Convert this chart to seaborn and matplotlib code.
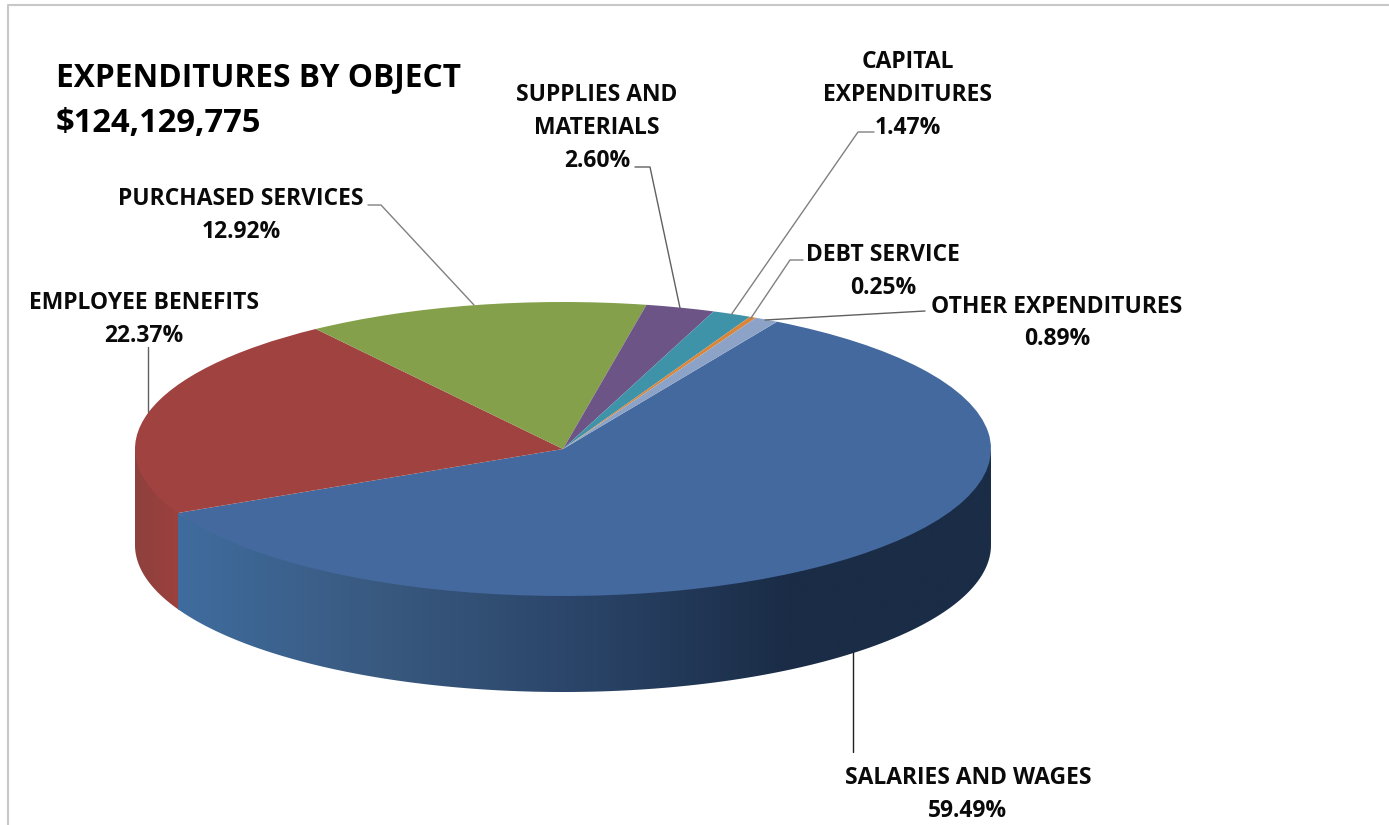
import numpy as np
import matplotlib
matplotlib.use("Agg")
import matplotlib.pyplot as plt
from matplotlib.patches import Polygon
import seaborn as sns

categories = ["SALARIES AND WAGES", "EMPLOYEE BENEFITS", "PURCHASED SERVICES",
              "SUPPLIES AND\nMATERIALS", "CAPITAL\nEXPENDITURES", "DEBT SERVICE",
              "OTHER EXPENDITURES"]
shares = [59.49, 22.37, 12.92, 2.60, 1.47, 0.25, 0.89]
title_lines = ["EXPENDITURES BY OBJECT", "$124,129,775"]
slice_colors = ["#44699E", "#A04240", "#84A04B", "#6D5486", "#3E93A9", "#D9863B", "#8CA3C7"]

W, H = 1389, 825
CX, CY, RX, RY, DEPTH = 563, 449, 428, 147, 96
START = 60

sns.set_theme(style="white")
plt.rcParams["font.family"] = ["Open Sans", "DejaVu Sans"]
plt.rcParams["font.weight"] = "bold"

def pt(x, y):
    return (x - CX) / RX, (CY - y) / RY

fig = plt.figure(figsize=(W / 100, H / 100), dpi=100, facecolor="white")
ax = fig.add_axes([0, 0, 1, 1])
ax.pie(shares, colors=slice_colors, startangle=START, counterclock=False,
       radius=1, wedgeprops=dict(linewidth=0))
ax.set_aspect("auto")
xlim = (pt(0, 0)[0], pt(W, 0)[0])
ylim = (pt(0, H)[1], pt(0, 0)[1])
for w in ax.patches:
    w.set_zorder(5)

d = DEPTH / RY
edges = START - np.cumsum([0] + shares) * 3.6
sal_end = edges[1] + 360      # left end of the visible salaries wall


def wall(a0, a1, stops, z):
    """Side wall between two angles, shaded along x; its top edge tucks under the disc."""
    t = np.linspace(0, 1, 300)
    th = np.radians(a0 + (a1 - a0) * t)
    xs, ys = np.cos(th), np.sin(th)
    s = 1 - 0.01 * np.minimum(1, np.minimum(t, 1 - t) * 20)
    poly = np.column_stack([np.r_[xs * s, xs[::-1]], np.r_[ys * s, ys[::-1] - d]])
    patch = Polygon(poly, closed=True, fc="none", ec="none", transform=ax.transData)
    ax.add_patch(patch)
    colors = np.array(sns.blend_palette(stops, 256))[None, :, :]
    im = ax.imshow(colors, extent=(xs.min(), xs.max(), ys.min() - d, ys.max()),
                   aspect="auto", interpolation="bilinear", zorder=z)
    im.set_clip_path(patch)


wall(sal_end, 360, ["#3F6C9E", "#39597F", "#2A4468", "#1A2C46", "#1A2C46"], 3)
wall(180, sal_end + 0.5, ["#8E403D", "#9C413E"], 2)

ax.set_xlim(*xlim)
ax.set_ylim(*ylim)
ax.axis("off")

# frame
ax.plot(*zip(pt(8, H), pt(8, 5), pt(W, 5)), color="#C8C8C8", lw=1.5, zorder=1)

# leader lines
leaders = [
    ([(368, 205), (381, 205), (474, 305)], "#808080"),
    ([(635, 167), (650, 167), (680, 308)], "#606060"),
    ([(874, 132), (858, 132), (731, 315)], "#808080"),
    ([(803, 260), (790, 260), (751, 318)], "#808080"),
    ([(925, 311), (765, 320)], "#606060"),
    ([(148, 347), (148, 412)], "#606060"),
    ([(853, 652), (853, 752)], "#202020"),
]
for path, col in leaders:
    ax.plot(*zip(*[pt(*p) for p in path]), color=col, lw=1.0, zorder=6)

# labels
label_pos = [(968, 794.5), (144, 319.5), (241, 215.5), (597, 128), (908, 95), (883, 271.5), (1057, 323)]
for name, v, (x, y) in zip(categories, shares, label_pos):
    ax.text(*pt(x, y), f"{name}\n{v:.2f}%", ha="center", va="center", fontsize=16.5,
            fontweight="bold", color="#0A0A0A", linespacing=1.48, zorder=7)

ax.text(*pt(56, 78), title_lines[0], ha="left", va="center", fontsize=22.8,
        fontweight="bold", color="black", zorder=7)
ax.text(*pt(56, 123), title_lines[1], ha="left", va="center", fontsize=23.6,
        fontweight="bold", color="black", zorder=7)

fig.savefig("out.png", dpi=100)
